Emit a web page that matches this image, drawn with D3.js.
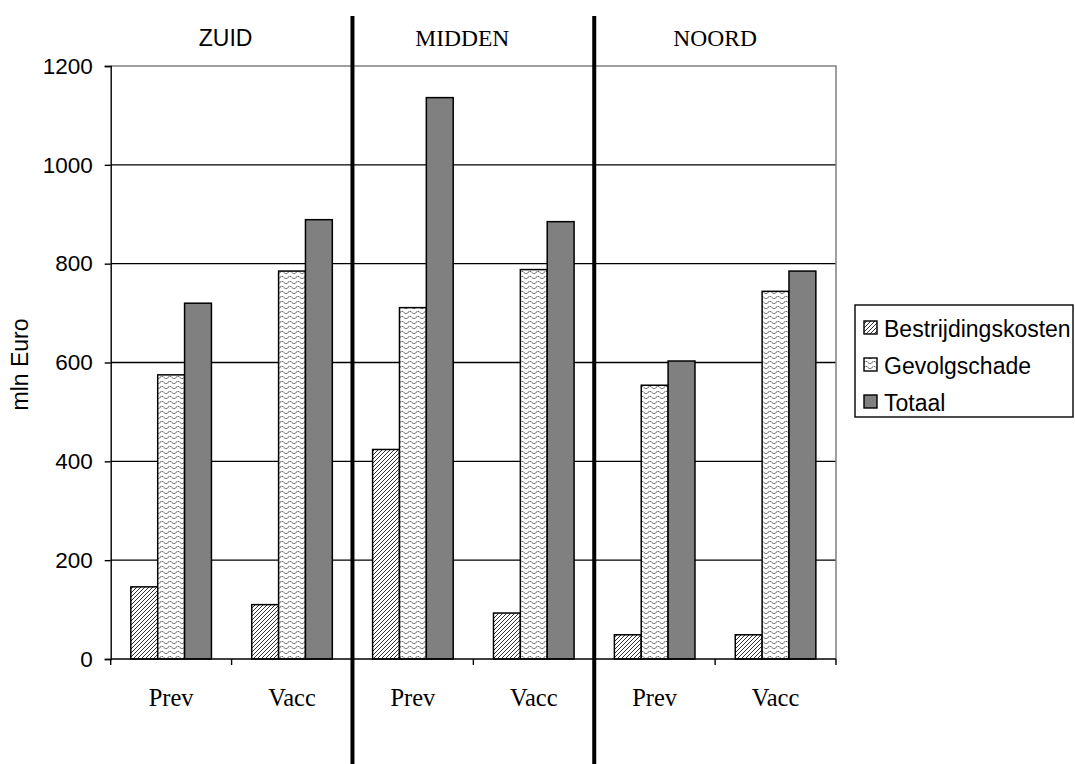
<!DOCTYPE html>
<html>
<head>
<meta charset="utf-8">
<script src="https://cdn.jsdelivr.net/npm/d3@7"></script>
<style>
  body { margin: 0; background: #fff; }
  svg { display: block; }
</style>
</head>
<body>
<script>
// ---- data ----
const regions = ["ZUID", "MIDDEN", "NOORD"];
const categories = ["Prev", "Vacc", "Prev", "Vacc", "Prev", "Vacc"];
const seriesNames = ["Bestrijdingskosten", "Gevolgschade", "Totaal"];
const bestrijdingskosten = [146, 110, 424, 93, 49, 49];
const gevolgschade = [575, 785, 711, 788, 554, 744];
const totaal = [720, 889, 1136, 885, 603, 785];
const yTicks = [0, 200, 400, 600, 800, 1000, 1200];
const yLabel = "mln Euro";

const seriesValues = [bestrijdingskosten, gevolgschade, totaal];

const W = 1075, H = 764;
const plot = { left: 110.7, right: 836, top: 66, bottom: 659 };
const SANS = "Liberation Sans, Arial, sans-serif";
const SERIF = "Liberation Serif, Times New Roman, serif";

const svg = d3.select("body").append("svg")
  .attr("width", W).attr("height", H)
  .attr("viewBox", `0 0 ${W} ${H}`);
svg.append("rect").attr("width", W).attr("height", H).attr("fill", "#fff");

// ---- patterns ----
const defs = svg.append("defs");
const hatch = defs.append("pattern")
  .attr("id", "hatch").attr("patternUnits", "userSpaceOnUse")
  .attr("width", 4).attr("height", 4);
hatch.append("rect").attr("width", 4).attr("height", 4).attr("fill", "#fff");
hatch.append("path")
  .attr("d", "M-1,1 l2,-2 M0,4 l4,-4 M3,5 l2,-2")
  .attr("stroke", "#333").attr("stroke-width", 1);

const wave = defs.append("pattern")
  .attr("id", "wave").attr("patternUnits", "userSpaceOnUse")
  .attr("width", 8).attr("height", 5);
wave.append("rect").attr("width", 8).attr("height", 5).attr("fill", "#fff");
wave.append("path")
  .attr("d", "M0,2.5 Q2,0.3 4,2.5 T8,2.5")
  .attr("fill", "none").attr("stroke", "#222").attr("stroke-width", 0.9)
  .attr("stroke-dasharray", "1.6,0.8");

const fills = ["url(#hatch)", "url(#wave)", "#808080"];

// ---- scales ----
const idx = d3.range(categories.length);
const x0 = d3.scaleBand().domain(idx).range([plot.left, plot.right]).padding(0);
const x1 = d3.scaleBand().domain(d3.range(seriesNames.length))
  .range([0, x0.bandwidth()]).paddingInner(0).paddingOuter(0.75);
const y = d3.scaleLinear().domain([0, 1200]).range([plot.bottom, plot.top]);

// ---- grid ----
svg.append("g").selectAll("line")
  .data(yTicks.filter(t => t > 0 && t < 1200))
  .join("line")
  .attr("x1", plot.left).attr("x2", plot.right)
  .attr("y1", d => y(d)).attr("y2", d => y(d))
  .attr("stroke", "#000").attr("stroke-width", 1.4);

// plot border (top & right, grey)
svg.append("path")
  .attr("d", `M${plot.left},${y(1200)} H${plot.right} V${y(0)}`)
  .attr("fill", "none").attr("stroke", "#808080").attr("stroke-width", 1.5);

// ---- bars ----
const barG = svg.append("g");
seriesValues.forEach((vals, s) => {
  barG.append("g").selectAll("rect")
    .data(vals)
    .join("rect")
    .attr("x", (d, i) => x0(i) + x1(s))
    .attr("y", d => y(d))
    .attr("width", x1.bandwidth())
    .attr("height", d => y(0) - y(d))
    .attr("fill", fills[s])
    .attr("stroke", "#000").attr("stroke-width", 1.5);
});

// ---- y axis ----
const yAxis = d3.axisLeft(y).tickValues(yTicks).tickSize(6).tickPadding(12).tickFormat(d3.format("d"));
const gy = svg.append("g").attr("transform", `translate(${plot.left},0)`).call(yAxis);
gy.select(".domain").attr("stroke", "#000").attr("stroke-width", 1.4);
gy.selectAll(".tick line").attr("stroke", "#000").attr("stroke-width", 1.4);
gy.selectAll("text").attr("font-family", SANS)
  .attr("font-size", 22.5).attr("fill", "#000");

svg.append("text")
  .attr("transform", `translate(28,${(plot.top + plot.bottom) / 2 + 2}) rotate(-90)`)
  .attr("text-anchor", "middle")
  .attr("font-family", SANS)
  .attr("font-size", 23).attr("fill", "#000")
  .text(yLabel);

// ---- x axis ----
const xAxisLine = svg.append("g");
xAxisLine.append("line")
  .attr("x1", plot.left).attr("x2", plot.right)
  .attr("y1", y(0)).attr("y2", y(0))
  .attr("stroke", "#000").attr("stroke-width", 1.6);
xAxisLine.selectAll(".xt")
  .data(d3.range(categories.length + 1))
  .join("line")
  .attr("x1", i => plot.left + i * x0.step()).attr("x2", i => plot.left + i * x0.step())
  .attr("y1", y(0)).attr("y2", y(0) + 6)
  .attr("stroke", "#000").attr("stroke-width", 1.4);

svg.append("g").selectAll("text")
  .data(categories)
  .join("text")
  .attr("x", (d, i) => x0(i) + x0.bandwidth() / 2)
  .attr("y", 706)
  .attr("text-anchor", "middle")
  .attr("font-family", SERIF)
  .attr("font-size", 24.5).attr("fill", "#000")
  .text(d => d);

// ---- region separators & labels ----
[2, 4].forEach(k => {
  svg.append("line")
    .attr("x1", plot.left + k * x0.step()).attr("x2", plot.left + k * x0.step())
    .attr("y1", 16).attr("y2", H)
    .attr("stroke", "#000").attr("stroke-width", 4);
});

const regionFonts = [SANS, SERIF, SERIF];
const regionOffsets = [-6, -11, 0];
svg.append("g").selectAll("text")
  .data(regions)
  .join("text")
  .attr("x", (d, i) => plot.left + (2 * i + 1) * x0.step() + regionOffsets[i])
  .attr("y", 45.5)
  .attr("text-anchor", "middle")
  .style("font-family", (d, i) => regionFonts[i])
  .attr("font-size", (d, i) => i === 0 ? 23 : 23.5)
  .attr("fill", "#000")
  .text(d => d);

// ---- legend ----
const leg = svg.append("g");
leg.append("rect")
  .attr("x", 855).attr("y", 305).attr("width", 218).attr("height", 112)
  .attr("fill", "#fff").attr("stroke", "#000").attr("stroke-width", 1.4);
seriesNames.forEach((name, s) => {
  const base = 337 + s * 37;
  leg.append("rect")
    .attr("x", 864).attr("y", base - 16).attr("width", 13).attr("height", 13)
    .attr("fill", fills[s]).attr("stroke", "#000").attr("stroke-width", 1.4);
  leg.append("text")
    .attr("x", 884).attr("y", base)
    .attr("font-family", SANS)
    .attr("font-size", 23).attr("fill", "#000")
    .text(name);
});
</script>
</body>
</html>
